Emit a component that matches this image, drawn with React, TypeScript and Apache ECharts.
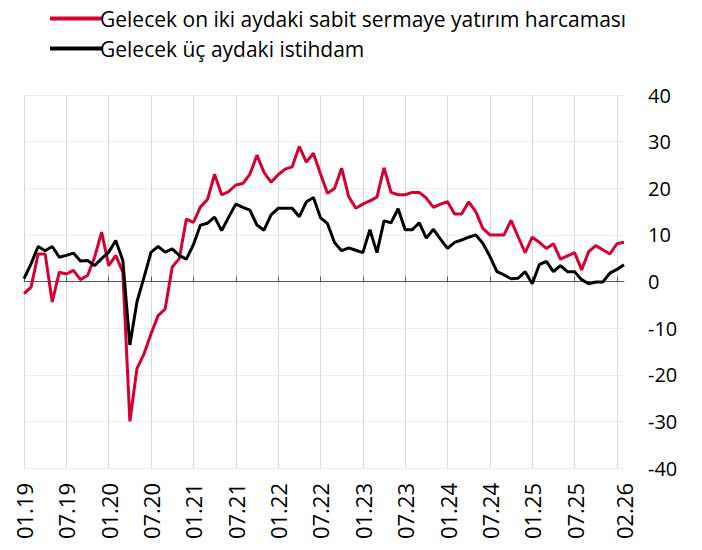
import React, { useEffect, useRef } from "react";
import * as echarts from "echarts";

const seriesNames = [
  "Gelecek on iki aydaki sabit sermaye yatırım harcaması",
  "Gelecek üç aydaki istihdam",
];

const years = ["19", "20", "21", "22", "23", "24", "25"];
const months = ["01", "02", "03", "04", "05", "06", "07", "08", "09", "10", "11", "12"];
const categories: string[] = [];
years.forEach((y) => months.forEach((m) => categories.push(m + "." + y)));
categories.push("01.26", "02.26");

const investment = [
  -2.6, -1.2, 5.9, 5.9, -4.4, 2.0, 1.6, 2.4, 0.4, 1.3, 5.2, 10.6,
  3.4, 5.6, 2.0, -30.0, -18.7, -15.5, -11.2, -7.3, -5.9, 3.1, 4.9, 13.4,
  12.7, 16.0, 17.6, 23.0, 18.6, 19.3, 20.7, 21.0, 23.0, 27.1, 23.4, 21.3,
  22.9, 24.1, 24.6, 29.0, 25.6, 27.5, 23.1, 18.9, 20.0, 24.3, 18.2, 15.7,
  16.6, 17.3, 18.1, 24.4, 19.1, 18.6, 18.6, 19.1, 19.1, 17.9, 15.9, 16.6,
  17.1, 14.5, 14.5, 17.1, 15.0, 11.4, 10.0, 10.0, 10.0, 13.1, 9.6, 6.2,
  9.5, 8.4, 7.1, 8.1, 4.8, 5.5, 6.2, 2.5, 6.4, 7.7, 6.8, 5.9,
  8.1, 8.4,
];

const employment = [
  0.6, 3.8, 7.5, 6.6, 7.5, 5.2, 5.6, 6.1, 4.4, 4.5, 3.4, 4.9,
  6.3, 8.8, 4.5, -13.6, -4.4, 0.9, 6.3, 7.5, 6.3, 7.0, 5.6, 4.8,
  7.9, 12.1, 12.5, 13.8, 10.9, 13.8, 16.6, 15.9, 15.3, 12.1, 11.0, 14.3,
  15.7, 15.7, 15.7, 13.9, 17.1, 18.0, 13.7, 12.4, 8.3, 6.6, 7.2, 6.7,
  6.2, 11.1, 6.2, 13.0, 12.6, 15.6, 11.1, 11.1, 12.6, 9.3, 11.2, 9.1,
  7.1, 8.4, 8.9, 9.5, 10.0, 8.2, 5.4, 2.1, 1.4, 0.6, 0.7, 2.1,
  -0.5, 3.6, 4.3, 2.1, 3.4, 2.1, 2.1, 0.4, -0.5, -0.1, -0.1, 1.8,
  2.6, 3.6,
];

const yMin = -40;
const yMax = 40;
const yStep = 10;

const FONT = "'Open Sans', sans-serif";

export default function App() {
  const ref = useRef<HTMLDivElement>(null);
  useEffect(() => {
    if (!ref.current) return;
    const chart = echarts.init(ref.current, null, { renderer: "svg" });
    const last = categories.length - 1;
    const labelShown = (i: number) => (i % 6 === 0 && i < last - 2) || i === last;
    const gridShown = (i: number) => i % 6 === 0;
    chart.setOption({
      animation: false,
      backgroundColor: "#ffffff",
      textStyle: { fontFamily: FONT },
      legend: {
        orient: "vertical",
        left: 45,
        top: 2,
        itemGap: 7,
        itemWidth: 52,
        itemHeight: 4,
        icon: "rect",
        data: seriesNames,
        textStyle: {
          fontFamily: FONT,
          fontSize: 21,
          color: "#000",
          lineHeight: 23,
          padding: [0, 0, 0, -7],
        },
      },
      grid: { left: 24, top: 95, width: 600, height: 373 },
      xAxis: [
        {
          type: "category",
          data: categories,
          boundaryGap: false,
          axisLine: { show: false, onZero: false },
          axisTick: { show: false },
          axisLabel: {
            interval: (i: number) => labelShown(i),
            rotate: 90,
            margin: 15,
            fontFamily: FONT,
            fontSize: 22,
            color: "#000",
          },
          splitLine: {
            show: true,
            interval: (i: number) => gridShown(i),
            lineStyle: { color: "#d9d9d9", width: 1 },
          },
        },
        {
          type: "category",
          data: categories,
          boundaryGap: false,
          axisLine: { show: true, onZero: true, lineStyle: { color: "#595959", width: 1 } },
          axisTick: {
            show: true,
            interval: (i: number) => gridShown(i),
            length: 5,
            lineStyle: { color: "#595959" },
          },
          axisLabel: { show: false },
          splitLine: { show: false },
        },
      ],
      yAxis: {
        type: "value",
        position: "right",
        min: yMin,
        max: yMax,
        interval: yStep,
        axisLine: { show: false },
        axisTick: { show: false },
        axisLabel: {
          margin: 24,
          align: "left",
          fontFamily: FONT,
          fontSize: 20,
          color: "#000",
        },
        splitLine: { show: true, lineStyle: { color: "#eeeeee", width: 1 } },
      },
      series: [
        {
          name: seriesNames[0],
          type: "line",
          data: investment,
          showSymbol: false,
          color: "#d50032",
          lineStyle: { width: 3, color: "#d50032" },
        },
        {
          name: seriesNames[1],
          type: "line",
          data: employment,
          showSymbol: false,
          color: "#000000",
          lineStyle: { width: 3, color: "#000000" },
        },
      ],
    });
    return () => chart.dispose();
  }, []);
  return (
    <div
      ref={ref}
      style={{ position: "absolute", left: 0, top: 0, width: 702, height: 550 }}
    />
  );
}
